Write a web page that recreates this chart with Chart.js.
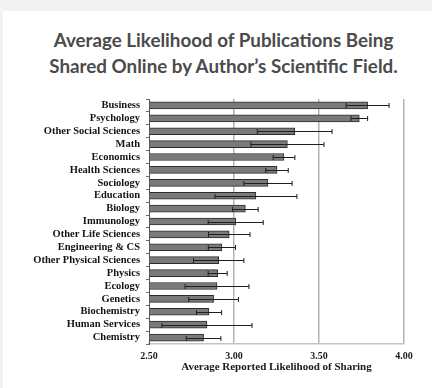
<!DOCTYPE html>
<html>
<head>
<meta charset="utf-8">
<script src="https://cdn.jsdelivr.net/npm/chart.js@4/dist/chart.umd.min.js"></script>
<style>
  html, body { margin: 0; padding: 0; background: #f2f2f2; }
  body { width: 432px; height: 388px; position: relative; overflow: hidden; }
  .card { position: absolute; left: 3px; top: 11px; right: -10px; bottom: -10px; background: #fff; }
  h1 {
    position: absolute; left: 0; top: 27px; width: 447px; margin: 0;
    font-family: Lato, sans-serif; font-weight: 700; font-size: 18.8px; line-height: 25.5px;
    color: #4b4b4b; text-align: center;
  }
  .wrap { position: absolute; left: 0; top: 85px; width: 432px; height: 303px; }
</style>
</head>
<body>
<div class="card"></div>
<h1>Average Likelihood of Publications Being<br>Shared Online by Author’s Scientific Field.</h1>
<div class="wrap"><canvas id="c"></canvas></div>
<script>
// Scientific fields, ordered by mean reported likelihood of sharing
const fields = [
  'Business', 'Psychology', 'Other Social Sciences', 'Math', 'Economics',
  'Health Sciences', 'Sociology', 'Education', 'Biology', 'Immunology',
  'Other Life Sciences', 'Engineering & CS', 'Other Physical Sciences', 'Physics',
  'Ecology', 'Genetics', 'Biochemistry', 'Human Services', 'Chemistry'
];
// Mean likelihood of sharing (1–5 scale)
const means = [3.786, 3.737, 3.357, 3.314, 3.294, 3.253, 3.200, 3.129, 3.067, 3.010,
               2.972, 2.929, 2.910, 2.904, 2.900, 2.880, 2.853, 2.841, 2.821];
// Half-width of each error bar
const errors = [0.126, 0.049, 0.220, 0.215, 0.064, 0.066, 0.142, 0.241, 0.075, 0.162,
                0.122, 0.080, 0.148, 0.056, 0.188, 0.146, 0.074, 0.265, 0.102];
const axisTicks = [2.5, 3.0, 3.5, 4.0];

const serif = 'Liberation Serif, Times New Roman, serif';

const errorBars = {
  id: 'errorBars',
  afterDatasetsDraw(chart) {
    const { ctx, scales: { x, y } } = chart;
    ctx.save();
    ctx.strokeStyle = '#1e1e1e';
    ctx.lineWidth = 1;
    means.forEach((m, i) => {
      const cy = Math.round(y.getPixelForValue(i)) + 0.5;
      const x0 = x.getPixelForValue(m - errors[i]);
      const x1 = x.getPixelForValue(m + errors[i]);
      ctx.beginPath();
      ctx.moveTo(x0, cy); ctx.lineTo(x1, cy);
      ctx.moveTo(x0, cy - 2.5); ctx.lineTo(x0, cy + 2.5);
      ctx.moveTo(x1, cy - 2.5); ctx.lineTo(x1, cy + 2.5);
      ctx.stroke();
    });
    ctx.restore();
  }
};

new Chart(document.getElementById('c'), {
  type: 'bar',
  data: {
    labels: fields,
    datasets: [{
      data: means,
      base: axisTicks[0],
      backgroundColor: '#7a7a7a',
      borderColor: '#2c2c2c',
      borderWidth: 1,
      borderSkipped: 'start',
      barThickness: 7
    }]
  },
  options: {
    indexAxis: 'y',
    responsive: true,
    maintainAspectRatio: false,
    animation: false,
    layout: { padding: { left: 0, right: 28, top: 14, bottom: 10 } },
    plugins: { legend: { display: false }, tooltip: { enabled: false } },
    scales: {
      x: {
        min: axisTicks[0],
        max: axisTicks[axisTicks.length - 1],
        afterBuildTicks: s => { s.ticks = axisTicks.map(v => ({ value: v })); },
        afterFit: s => { s.height = 34; },
        grid: {
          drawTicks: false,
          lineWidth: 1.5,
          color: c => (c.tick && c.tick.value === axisTicks[0]) ? 'rgba(0,0,0,0)' : '#b3b3b3'
        },
        border: { display: true, color: '#c4c4c4', width: 1.5 },
        ticks: {
          padding: 6,
          color: '#1a1a1a',
          font: { family: serif, size: 10, weight: 'bold' },
          callback: v => Number(v).toFixed(2)
        },
        title: {
          display: true,
          text: 'Average Reported Likelihood of Sharing',
          color: '#1a1a1a',
          padding: { top: 1, bottom: 4 },
          font: { family: serif, size: 11, weight: 'bold' }
        }
      },
      y: {
        afterFit: s => { s.width = 149; },
        grid: {
          offset: true,
          drawOnChartArea: false,
          drawTicks: true,
          tickLength: 3,
          color: '#6a6a6a'
        },
        border: { display: true, color: '#555', width: 1 },
        ticks: {
          padding: 6,
          color: '#141414',
          autoSkip: false,
          font: { family: serif, size: 10.5, weight: 'bold' }
        }
      }
    }
  },
  plugins: [errorBars]
});
</script>
</body>
</html>
